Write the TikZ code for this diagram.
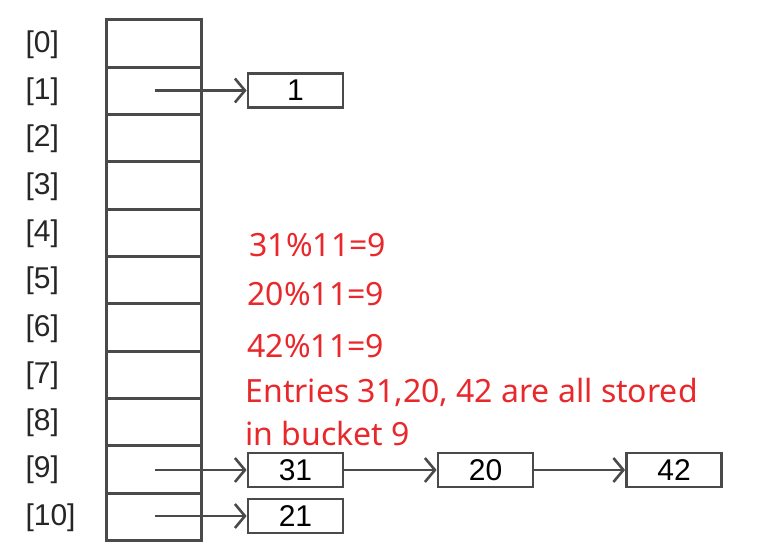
\documentclass[tikz,border=0pt]{standalone}
\usepackage{fontspec}
\setmainfont{Liberation Sans}
\newfontfamily\redfont{Noto Sans}
\usetikzlibrary{arrows.meta}
\definecolor{boxgray}{HTML}{4A4A4A}
\definecolor{redtxt}{HTML}{E8282B}
\tikzset{
  cellbox/.style={draw=boxgray, line width=3pt, minimum width=95pt, minimum height=47.3pt, inner sep=0pt, outer sep=0pt},
  listbox/.style={draw=boxgray, line width=2.8pt, minimum width=95pt, minimum height=34pt, inner sep=0pt, font=\fontsize{30}{32}\selectfont},
  idx/.style={anchor=west, font=\fontsize{30}{32}\selectfont, text=black!85},
  ptr/.style={draw=boxgray, line width=2.4pt, -{Straight Barb[length=10pt,width=24pt,line width=2.6pt]}},
  note/.style={anchor=west, text=redtxt, font=\redfont\fontsize{32}{34}\selectfont}
}
\begin{document}
\begin{tikzpicture}[x=1pt,y=-1pt]
\useasboundingbox (0,0) rectangle (771,559);
\foreach \i in {0,...,10} {
  \node[cellbox] (c\i) at (153.5, {20+47.3*\i+23.65}) {};
  \node[idx] (l\i) at (22, {20+47.3*\i+24.5}) {[\i]};
}
\node[listbox] (n1) at (295.5,90.5) {1};
\node[listbox] (n31) at (295.5,470) {31};
\node[listbox] (n20) at (485.5,470) {20};
\node[listbox] (n42) at (674,470) {42};
\node[listbox] (n21) at (295.5,516) {21};
\coordinate (p1) at (155,90.5);
\coordinate (p9) at (155,470);
\coordinate (p10) at (155,516);
\draw[ptr] (p1) -- (n1.west);
\draw[ptr] (p9) -- (n31.west);
\draw[ptr] (p10) -- (n21.west);
\draw[ptr] (n31.east) -- (n20.west);
\draw[ptr] (n20.east) -- (n42.west);
\node[note] (t1) at (246,245) {31\%11=9};
\node[note] (t2) at (244,294) {20\%11=9};
\node[note] (t3) at (244,346) {42\%11=9};
\node[note] (t4) at (242,392) {Entries 31,20, 42 are all stored};
\node[note] (t5) at (242,433) {in bucket 9};
\end{tikzpicture}
\end{document}
